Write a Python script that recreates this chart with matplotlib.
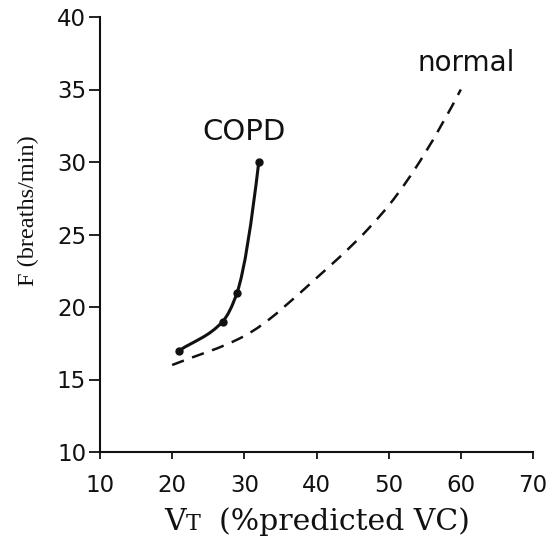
import numpy as np
import matplotlib
matplotlib.use("Agg")
import matplotlib.pyplot as plt
from matplotlib.path import Path
from matplotlib.patches import PathPatch
from matplotlib.offsetbox import TextArea, HPacker, AnchoredOffsetbox

# tidal volume (% predicted VC) vs breathing frequency
copd_vt = [21, 27, 29, 32]
copd_f = [17, 19, 21, 30]

normal_vt = [20, 30, 40, 50, 60]
normal_f = [16, 18, 22, 27, 35]

x_ticks = [10, 20, 30, 40, 50, 60, 70]
y_ticks = [10, 15, 20, 25, 30, 35, 40]


def smooth_path(xs, ys):
    # monotone (Fritsch-Carlson) cubic through the points, as Bezier segments
    x = np.asarray(xs, float)
    y = np.asarray(ys, float)
    h = np.diff(x)
    d = np.diff(y) / h
    m = np.zeros_like(x)
    for k in range(1, len(x) - 1):
        if d[k - 1] * d[k] > 0:
            w1 = 2 * h[k] + h[k - 1]
            w2 = h[k] + 2 * h[k - 1]
            m[k] = (w1 + w2) / (w1 / d[k - 1] + w2 / d[k])
    # ends: first keeps the secant slope, last uses the one-sided estimate
    m[0] = d[0]
    m[-1] = ((2 * h[-1] + h[-2]) * d[-1] - h[-1] * d[-2]) / (h[-1] + h[-2])
    verts = [(x[0], y[0])]
    codes = [Path.MOVETO]
    for k in range(len(h)):
        t = h[k] / 3
        verts += [(x[k] + t, y[k] + t * m[k]),
                  (x[k + 1] - t, y[k + 1] - t * m[k + 1]),
                  (x[k + 1], y[k + 1])]
        codes += [Path.CURVE4] * 3
    return Path(verts, codes)


ink = "#111111"
fig = plt.figure(figsize=(5.51, 5.46), dpi=100)
ax = fig.add_axes([100 / 551, 1 - 452 / 546, 433 / 551, 435 / 546])

ax.add_patch(PathPatch(smooth_path(copd_vt, copd_f), fill=False,
                       lw=2.2, color=ink, capstyle="round"))
ax.plot(copd_vt, copd_f, "o", color=ink, ms=5)

ax.add_patch(PathPatch(smooth_path(normal_vt, normal_f), fill=False,
                       lw=1.8, color=ink, linestyle=(0, (5, 3.5))))

ax.text(29.9, 32.1, "COPD", ha="center", va="center", fontsize=21,
        family="DejaVu Sans", color=ink)
ax.text(60.8, 36.8, "normal", ha="center", va="center", fontsize=20,
        family="DejaVu Sans", color=ink)

ax.set_xlim(10, 70)
ax.set_ylim(10, 40)
ax.set_xticks(x_ticks)
ax.set_yticks(y_ticks)
for s in ["top", "right"]:
    ax.spines[s].set_visible(False)
for s in ["left", "bottom"]:
    ax.spines[s].set_linewidth(1.5)
    ax.spines[s].set_color(ink)

ax.tick_params(axis="x", direction="out", length=5, width=1.3, pad=11,
               labelsize=16.5, colors=ink)
ax.tick_params(axis="y", direction="out", length=8, width=1.3, pad=2,
               labelsize=16.5, colors=ink)
for lab in ax.get_xticklabels() + ax.get_yticklabels():
    lab.set_family("DejaVu Sans")

ax.set_ylabel("F (breaths/min)", family="Liberation Serif", fontsize=17.5,
              color=ink)
ax.yaxis.set_label_coords(-0.14, 0.554)

# x label with a small-capital T in VT
serif = dict(family="DejaVu Serif", color=ink)
parts = [TextArea("V", textprops=dict(size=21.5, **serif)),
         TextArea("T", textprops=dict(size=16, **serif)),
         TextArea("  (%predicted VC)", textprops=dict(size=21.5, **serif))]
label_box = HPacker(children=parts, align="baseline", pad=0, sep=0)
ax.add_artist(AnchoredOffsetbox(loc="center", child=label_box, frameon=False,
                                bbox_to_anchor=(317 / 551, 1 - 522 / 546),
                                bbox_transform=fig.transFigure,
                                pad=0, borderpad=0))

fig.savefig("out.png", dpi=100)
